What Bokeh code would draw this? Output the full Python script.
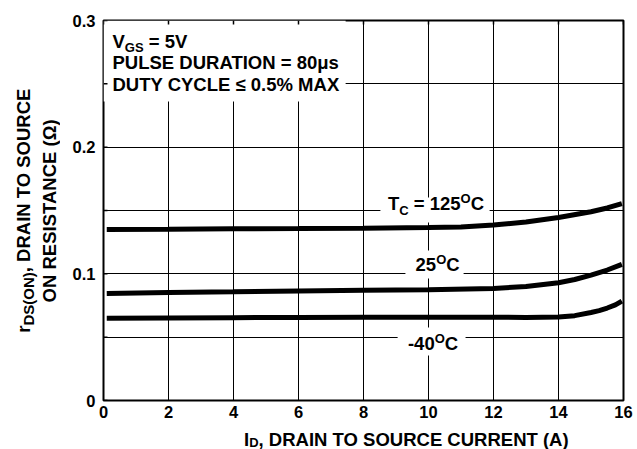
import math
from bokeh.plotting import figure
from bokeh.models import Label, FixedTicker, Range1d
from bokeh.layouts import row, column
from bokeh.embed import file_html
from bokeh.resources import INLINE

# ---------------- data ----------------
x_125 = [0.1, 2, 4, 6, 8, 10, 11, 12, 13, 14, 15, 15.5, 15.95]
r_125 = [0.135, 0.1352, 0.1355, 0.1357, 0.136, 0.1365, 0.137, 0.1385, 0.141, 0.1445, 0.149, 0.152, 0.1555]
x_25 = [0.1, 2, 4, 6, 8, 10, 12, 13, 14, 14.5, 15, 15.5, 15.95]
r_25 = [0.0845, 0.0852, 0.0858, 0.0865, 0.087, 0.0875, 0.0885, 0.09, 0.093, 0.0955, 0.099, 0.103, 0.1075]
x_m40 = [0.1, 2, 4, 6, 8, 10, 12, 13, 14, 14.5, 15, 15.25, 15.5, 15.75, 15.95]
r_m40 = [0.065, 0.0652, 0.0654, 0.0656, 0.0657, 0.0658, 0.0658, 0.0655, 0.066, 0.067, 0.0695, 0.071, 0.073, 0.0755, 0.0785]

x_ticks = [0, 2, 4, 6, 8, 10, 12, 14, 16]
y_ticks = [0, 0.1, 0.2, 0.3]
y_tick_labels = ["0", "0.1", "0.2", "0.3"]
y_grid = [0, 0.05, 0.1, 0.15, 0.2, 0.25, 0.3]

# label background boxes (data units): text block, 125C, 25C, -40C
box_left = [0, 8.52, 9.29, 9.05]
box_right = [7.45, 11.88, 11.08, 11.14]
box_bottom = [0.236, 0.1405, 0.0963, 0.0355]
box_top = [0.3, 0.1603, 0.1184, 0.0576]

FONT = "Liberation Sans"
BIG = 18.5
SMALL = 13

# Liberation Sans Bold advance widths (1/1000 em)
W = {' ': 278, '(': 333, ')': 333, ',': 278, '-': 333, '.': 278, '%': 889, '=': 584,
     '\u2264': 549, '\u03bc': 577, '\u03a9': 768,
     'A': 722, 'C': 722, 'D': 722, 'E': 667, 'G': 778, 'I': 278, 'L': 611, 'M': 833,
     'N': 722, 'O': 778, 'P': 667, 'R': 722, 'S': 667, 'T': 611, 'U': 722, 'V': 667,
     'X': 667, 'Y': 667, 'r': 389, 's': 556}
for d in "0123456789":
    W[d] = 556


def tw(s, size):
    return sum(W.get(c, 600) for c in s) * size / 1000.0


def compose(fig, pieces, x, y, units="data", angle=0.0, align="left"):
    total = sum(tw(t, sz) for t, sz, sh in pieces)
    pos = 0.0 if align == "left" else -total / 2.0
    for t, sz, sh in pieces:
        stripped = t.lstrip(" ")
        lead = tw(t[:len(t) - len(stripped)], sz)
        corr = 0.27 * sz  # renderer places the alphabetic baseline slightly low
        if angle == 0:
            xo, yo = pos + lead, sh + corr
        else:
            xo, yo = -(sh + corr), pos + lead
        fig.add_layout(Label(x=x, y=y, x_units=units, y_units=units, x_offset=xo, y_offset=yo,
                             text=stripped, angle=angle, text_font=FONT, text_font_style="bold",
                             text_font_size=f"{sz}px", text_baseline="alphabetic",
                             text_align="left", text_color="black"))
        pos += tw(t, sz)


def blank_fig(w, h):
    f = figure(width=w, height=h, output_backend="svg", toolbar_location=None,
               x_range=Range1d(0, 1), y_range=Range1d(0, 1),
               x_axis_type=None, y_axis_type=None,
               min_border=0, min_border_left=0, min_border_right=0,
               min_border_top=0, min_border_bottom=0,
               background_fill_color="white", border_fill_color="white")
    f.outline_line_color = None
    f.grid.visible = False
    return f


# ---------------- main chart ----------------
p = figure(width=574, height=425, output_backend="svg", toolbar_location=None,
           x_range=Range1d(0, 16), y_range=Range1d(0, 0.3),
           min_border_left=43, min_border_right=11, min_border_top=20, min_border_bottom=25,
           background_fill_color="white", border_fill_color="white")

p.outline_line_color = "black"
p.outline_line_width = 2

for ax in (p.xaxis, p.yaxis):
    ax.axis_line_color = None
    ax.major_tick_in = 0
    ax.major_tick_out = 0
    ax.minor_tick_line_color = None
    ax.major_label_text_font = FONT
    ax.major_label_text_font_style = "bold"
    ax.major_label_text_font_size = "16.5px"
    ax.major_label_text_color = "black"

p.xaxis.ticker = FixedTicker(ticks=x_ticks)
p.xaxis.major_label_standoff = 5
p.yaxis.ticker = FixedTicker(ticks=y_ticks)
p.yaxis.major_label_overrides = {t: l for t, l in zip(y_ticks, y_tick_labels)}
p.yaxis.major_label_standoff = 8

p.xgrid.grid_line_color = "black"
p.xgrid.grid_line_width = 1
p.ygrid.ticker = FixedTicker(ticks=y_grid)
p.ygrid.grid_line_color = "black"
p.ygrid.grid_line_width = 1

# white label backgrounds covering the grid
p.quad(left=box_left, right=box_right, bottom=box_bottom, top=box_top,
       fill_color="white", line_color=None)

# short inward tick marks along the top and left edges
p.ray(x=x_ticks, y=[0.3] * len(x_ticks), length=4, length_units="screen",
      angle=-math.pi / 2, line_color="black", line_width=1.5)
p.ray(x=[0] * len(y_grid), y=y_grid, length=4, length_units="screen",
      angle=0, line_color="black", line_width=1.5)

for xs, ys in ((x_125, r_125), (x_25, r_25), (x_m40, r_m40)):
    p.line(xs, ys, line_color="black", line_width=5)

# condition block
compose(p, [("V", BIG, 0), ("GS", SMALL, -5), (" = 5V", BIG, 0)], 0.277, 0.2795)
compose(p, [("PULSE DURATION = 80\u03bcs", BIG, 0)], 0.277, 0.2629)
compose(p, [("DUTY CYCLE \u2264 0.5% MAX", BIG, 0)], 0.277, 0.2455)

# curve labels
compose(p, [("T", BIG, 0), ("C", SMALL, -6), (" = 125", BIG, 0), ("O", SMALL, 6), ("C", BIG, 0)],
        10.23, 0.1516, align="center")
compose(p, [("25", BIG, 0), ("O", SMALL, 6), ("C", BIG, 0)], 10.28, 0.1038, align="center")
compose(p, [("-40", BIG, 0), ("O", SMALL, 6), ("C", BIG, 0)], 10.14, 0.0414, align="center")

# ---------------- axis titles ----------------
left_fig = blank_fig(60, 449)
compose(left_fig, [("r", BIG, 0), ("DS(ON)", 15, -4), (", DRAIN TO SOURCE", BIG, 0)],
        28, 239, units="screen", angle=math.pi / 2, align="center")
compose(left_fig, [("ON RESISTANCE (\u03a9)", BIG, 0)],
        54, 239, units="screen", angle=math.pi / 2, align="center")

bottom_fig = blank_fig(574, 24)
compose(bottom_fig, [("I", BIG, 0), ("D", SMALL, -2), (", DRAIN TO SOURCE CURRENT (A)", BIG, 0)],
        303, 5, units="screen", align="center")

layout = row(left_fig, column(p, bottom_fig))

open("out.html", "w").write(file_html(layout, INLINE))
